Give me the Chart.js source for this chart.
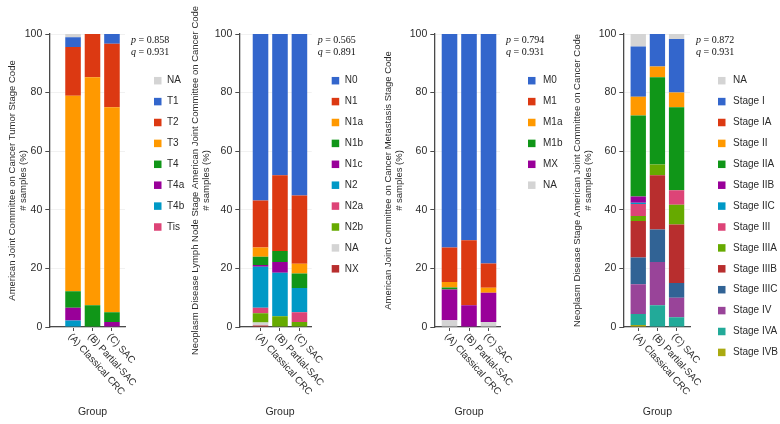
<!DOCTYPE html>
<html>
<head>
<meta charset="utf-8">
<script src="https://cdn.jsdelivr.net/npm/chart.js@4.4.1/dist/chart.umd.min.js"></script>
<style>
  html, body { margin: 0; padding: 0; background: #fff; }
  #wrap { position: relative; width: 780px; height: 424px; }
  #wrap canvas { position: absolute; left: 0; top: 0; }
</style>
</head>
<body>
<div id="wrap">
  <canvas id="c-tumor" width="780" height="424"></canvas>
  <canvas id="c-node" width="780" height="424"></canvas>
  <canvas id="c-meta" width="780" height="424"></canvas>
  <canvas id="c-stage" width="780" height="424"></canvas>
</div>
<script>
'use strict';

// ─── Data ────────────────────────────────────────────────────────────────────
const GROUPS  = ['(A) Classical CRC', '(B) Partial-SAC', '(C) SAC'];
const Y_TICKS = [0, 20, 40, 60, 80, 100];

// rows follow legend order (top of legend first), columns follow GROUPS
const tumorCodes = ['NA', 'T1', 'T2', 'T3', 'T4', 'T4a', 'T4b', 'Tis'];
const tumorPct = [
  [1.1, 0, 0],
  [3.3, 0, 3.3],
  [16.7, 14.8, 21.7],
  [66.7, 77.8, 70.0],
  [5.6, 7.4, 3.3],
  [4.4, 0, 1.7],
  [2.2, 0, 0],
  [0, 0, 0],
];
const tumorPQ = ['0.858', '0.931'];

const nodeCodes = ['N0', 'N1', 'N1a', 'N1b', 'N1c', 'N2', 'N2a', 'N2b', 'NA', 'NX'];
const nodePct = [
  [56.8, 48.2, 55.1],
  [16.1, 25.9, 23.3],
  [3.1, 0, 3.3],
  [2.8, 3.7, 5.0],
  [0.6, 3.7, 0],
  [14.0, 14.8, 8.3],
  [1.9, 0, 3.3],
  [3.2, 3.7, 1.7],
  [1.0, 0, 0],
  [0.5, 0, 0],
];
const nodePQ = ['0.565', '0.891'];

const metaCodes = ['M0', 'M1', 'M1a', 'M1b', 'MX', 'NA'];
const metaPct = [
  [72.9, 70.4, 78.3],
  [11.7, 22.2, 8.3],
  [1.9, 0, 1.7],
  [0.7, 0, 0],
  [10.5, 7.4, 10.0],
  [2.3, 0, 1.7],
];
const metaPQ = ['0.794', '0.931'];

const stageCodes = ['NA', 'Stage I', 'Stage IA', 'Stage II', 'Stage IIA', 'Stage IIB', 'Stage IIC',
  'Stage III', 'Stage IIIA', 'Stage IIIB', 'Stage IIIC', 'Stage IV', 'Stage IVA', 'Stage IVB'];
const stagePct = [
  [4.3, 0, 1.7],
  [17.1, 11.1, 18.3],
  [0, 0, 0],
  [6.4, 3.7, 5.0],
  [27.7, 29.7, 28.3],
  [2.1, 0, 0],
  [0.4, 0, 0],
  [4.1, 0, 5.0],
  [1.7, 3.7, 6.7],
  [12.5, 18.5, 20.0],
  [9.1, 11.1, 5.0],
  [10.2, 14.8, 6.7],
  [3.7, 7.4, 3.3],
  [0.7, 0, 0],
];
const stagePQ = ['0.872', '0.931'];

// ─── Styles ──────────────────────────────────────────────────────────────────
const SANS  = '"Liberation Sans", Arial, Helvetica, sans-serif';
const SERIF = '"Liberation Serif", "Times New Roman", serif';
const INK   = '#2b2b2b';
const AXIS  = '#4a4a4a';

const C = {
  na: '#d4d4d4', blue: '#3366cc', red: '#dc3912', orange: '#ff9900', green: '#109618',
  purple: '#990099', cyan: '#0099c6', pink: '#dd4477', lime: '#66aa00', brick: '#b82e2e',
  navy: '#316395', mauve: '#994499', teal: '#22aa99', olive: '#aaaa11',
};
const tumorColors = [C.na, C.blue, C.red, C.orange, C.green, C.purple, C.cyan, C.pink];
const nodeColors  = [C.blue, C.red, C.orange, C.green, C.purple, C.cyan, C.pink, C.lime, C.na, C.brick];
const metaColors  = [C.blue, C.red, C.orange, C.green, C.purple, C.na];
const stageColors = [C.na, C.blue, C.red, C.orange, C.green, C.purple, C.cyan, C.pink, C.lime,
  C.brick, C.navy, C.mauve, C.teal, C.olive];

// ─── Decorations: rotated group labels, "Group", p/q, legend ─────────────────
const panelDecor = {
  id: 'panelDecor',
  afterDraw(chart, args, opts) {
    const { ctx, chartArea } = chart;
    const x = chart.scales.x;
    ctx.save();

    // group labels, reading down to the right from each tick
    ctx.fillStyle = INK;
    ctx.font = `9.8px ${SANS}`;
    ctx.textAlign = 'left';
    ctx.textBaseline = 'middle';
    GROUPS.forEach((g, i) => {
      ctx.save();
      ctx.translate(x.getPixelForValue(i + 1) - 3, chartArea.bottom + 8);
      ctx.rotate(48 * Math.PI / 180);
      ctx.fillText(g, 0, 0);
      ctx.restore();
    });

    ctx.textAlign = 'center';
    ctx.font = `10.5px ${SANS}`;
    ctx.fillText('Group', x.getPixelForValue(2), chartArea.bottom + 85);

    // p / q
    ctx.textAlign = 'left';
    ctx.fillStyle = '#111';
    [['p', opts.pq[0]], ['q', opts.pq[1]]].forEach(([k, v], i) => {
      const px = chartArea.right + 6, py = chartArea.top + 6 + i * 12;
      ctx.font = `italic 10px ${SERIF}`;
      ctx.fillText(k, px, py);
      const w = ctx.measureText(k).width;
      ctx.font = `10px ${SERIF}`;
      ctx.fillText(' = ' + v, px + w, py);
    });

    // legend, first code at the top
    ctx.font = `10px ${SANS}`;
    opts.codes.forEach((code, i) => {
      const cy = 80.7 + i * 20.9;
      ctx.fillStyle = opts.colors[i];
      ctx.fillRect(chartArea.right + opts.boxDx, cy - 3.75, 7.5, 7.5);
      ctx.fillStyle = INK;
      ctx.fillText(code, chartArea.right + opts.textDx, cy);
    });

    ctx.restore();
  }
};

// ─── Panel builder ───────────────────────────────────────────────────────────
function buildPanel(id, codes, pct, colors, yTitle, pq, lay) {
  // first dataset sits at the bottom of the stack, so reverse legend order
  const datasets = codes.map((code, i) => ({
    label: code,
    data: pct[i].map((v, g) => ({ x: g + 1, y: v })),
    backgroundColor: colors[i],
    borderWidth: 0,
    barPercentage: 0.8,
    categoryPercentage: 1,
  })).reverse();

  return new Chart(document.getElementById(id), {
    type: 'bar',
    data: { datasets },
    options: {
      responsive: false,
      animation: false,
      events: [],
      layout: { padding: { left: lay.left, right: 780 - lay.axisEnd, top: 34, bottom: 0 } },
      plugins: {
        legend: { display: false },
        tooltip: { enabled: false },
        panelDecor: { codes, colors, pq, boxDx: lay.boxDx, textDx: lay.textDx },
      },
      scales: {
        x: {
          type: 'linear',
          stacked: true,
          offset: false,
          bounds: 'data',
          min: lay.xMin,
          max: lay.xMax,
          afterBuildTicks: axis => { axis.ticks = GROUPS.map((_, i) => ({ value: i + 1 })); },
          afterFit: axis => { axis.height = 97; },
          ticks: { display: false },
          grid: { offset: false, drawOnChartArea: false, drawTicks: true, tickLength: 4, tickColor: AXIS, tickWidth: 1 },
          border: { color: AXIS, width: 1.3 },
        },
        y: {
          stacked: true,
          min: 0,
          max: 100,
          afterBuildTicks: axis => { axis.ticks = Y_TICKS.map(v => ({ value: v })); },
          afterFit: axis => { axis.width = lay.axisX - lay.left; },
          ticks: { font: { family: SANS, size: 10.5 }, color: INK, padding: 3 },
          grid: { color: '#f1f1f1', tickColor: AXIS, tickLength: 4, tickWidth: 1 },
          border: { color: AXIS, width: 1.3 },
          title: {
            display: true,
            text: yTitle,
            color: INK,
            font: { family: SANS, size: 9.5, lineHeight: 1.15 },
            padding: { top: 0, bottom: 0 },
          },
        },
      },
    },
    plugins: [panelDecor],
  });
}

// ─── Init ────────────────────────────────────────────────────────────────────
buildPanel('c-tumor', tumorCodes, tumorPct, tumorColors,
  ['American Joint Committee on Cancer Tumor Stage Code', '# samples (%)'], tumorPQ,
  { left: 6.5, axisX: 49.3, axisEnd: 125, xMin: -0.22, xMax: 3.67, boxDx: 29, textDx: 42 });

buildPanel('c-node', nodeCodes, nodePct, nodeColors,
  ['Neoplasm Disease Lymph Node Stage American Joint Committee on Cancer Code', '# samples (%)'], nodePQ,
  { left: 189.5, axisX: 239.3, axisEnd: 311.7, xMin: -0.09, xMax: 3.63, boxDx: 20, textDx: 33 });

buildPanel('c-meta', metaCodes, metaPct, metaColors,
  ['American Joint Committee on Cancer Metastasis Stage Code', '# samples (%)'], metaPQ,
  { left: 382.5, axisX: 434.3, axisEnd: 500, xMin: 0.22, xMax: 3.59, boxDx: 28, textDx: 43 });

buildPanel('c-stage', stageCodes, stagePct, stageColors,
  ['Neoplasm Disease Stage American Joint Committee on Cancer Code', '# samples (%)'], stagePQ,
  { left: 571.5, axisX: 623.3, axisEnd: 690, xMin: 0.22, xMax: 3.7, boxDx: 28, textDx: 43 });
</script>
</body>
</html>
